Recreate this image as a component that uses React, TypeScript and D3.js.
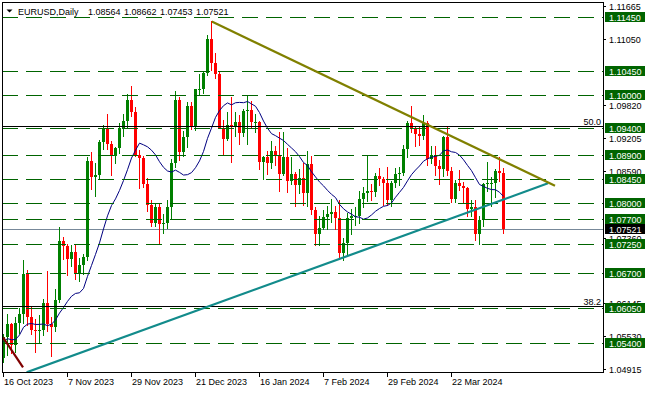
import React from 'react';
import * as d3 from 'd3';

// ---- Data (EURUSD daily, 16 Oct 2023 .. 10 Apr 2024) ----
const opens = [
  1.0512, 1.0551, 1.0576, 1.0537, 1.0578, 1.0594, 1.0668, 1.0588, 1.0565, 1.0564,
  1.0565, 1.0615, 1.0575, 1.0570, 1.0620, 1.0730, 1.0720, 1.0697, 1.0710, 1.0668,
  1.0685, 1.0700, 1.0879, 1.0848, 1.0852, 1.0914, 1.0939, 1.0909, 1.0888, 1.0903,
  1.0940, 1.0953, 1.0992, 1.0970, 1.0889, 1.0884, 1.0836, 1.0796, 1.0764, 1.0792,
  1.0762, 1.0763, 1.0793, 1.0874, 1.0991, 1.0895, 1.0922, 1.0980, 1.0942, 1.1012,
  1.1012, 1.1041, 1.1105, 1.1060, 1.1039, 1.0940, 1.0920, 1.0946, 1.0941, 1.0950,
  1.0931, 1.0972, 1.0973, 1.0950, 1.0951, 1.0876, 1.0885, 1.0875, 1.0897, 1.0888,
  1.0855, 1.0885, 1.0842, 1.0855, 1.0834, 1.0846, 1.0818, 1.0872, 1.0788, 1.0743,
  1.0754, 1.0774, 1.0780, 1.0784, 1.0772, 1.0708, 1.0727, 1.0772, 1.0777, 1.0777,
  1.0808, 1.0819, 1.0822, 1.0820, 1.0850, 1.0845, 1.0838, 1.0805, 1.0838, 1.0855,
  1.0856, 1.0900, 1.0948, 1.0937, 1.0928, 1.0924, 1.0948, 1.0882, 1.0890, 1.0869,
  1.0864, 1.0922, 1.0860, 1.0808, 1.0838, 1.0831, 1.0828, 1.0790, 1.0792, 1.0742,
  1.0769, 1.0835, 1.0837, 1.0838, 1.0860, 1.08564,
];
const highs = [
  1.0557, 1.0595, 1.0578, 1.0588, 1.0605, 1.0695, 1.0676, 1.0610, 1.0585, 1.0593,
  1.0622, 1.0675, 1.0588, 1.0640, 1.0756, 1.0737, 1.0724, 1.0723, 1.0724, 1.0698,
  1.0705, 1.0886, 1.0895, 1.0874, 1.0918, 1.0945, 1.0965, 1.0915, 1.0905, 1.0948,
  1.0965, 1.1002, 1.1017, 1.0978, 1.0898, 1.0888, 1.0846, 1.0806, 1.0799, 1.0800,
  1.0780, 1.0805, 1.0882, 1.1009, 1.0998, 1.0934, 1.0988, 1.0988, 1.1012, 1.1040,
  1.1045, 1.1112, 1.1139, 1.1079, 1.1045, 1.0955, 1.0969, 1.0998, 1.0970, 1.0963,
  1.0974, 1.0999, 1.0990, 1.0966, 1.0953, 1.0887, 1.0896, 1.0915, 1.0906, 1.0932,
  1.0932, 1.0903, 1.0886, 1.0858, 1.0863, 1.0875, 1.0896, 1.0888, 1.0792, 1.0776,
  1.0787, 1.0795, 1.0807, 1.0795, 1.0805, 1.0736, 1.0781, 1.0790, 1.0792, 1.0822,
  1.0830, 1.0888, 1.0836, 1.0856, 1.0865, 1.0849, 1.0867, 1.0842, 1.0866, 1.0868,
  1.0908, 1.0953, 1.0981, 1.0941, 1.0943, 1.0963, 1.0953, 1.0906, 1.0906, 1.0880,
  1.0924, 1.0942, 1.0868, 1.0843, 1.0862, 1.0840, 1.0830, 1.0805, 1.0806, 1.0776,
  1.0838, 1.0876, 1.0849, 1.0863, 1.0885, 1.08662,
];
const lows = [
  1.0505, 1.0519, 1.0522, 1.0524, 1.0560, 1.0577, 1.0574, 1.0557, 1.0524, 1.0543,
  1.0556, 1.0562, 1.0517, 1.0563, 1.0617, 1.0696, 1.0667, 1.0683, 1.0660, 1.0656,
  1.0668, 1.0695, 1.0826, 1.0813, 1.0845, 1.0900, 1.0901, 1.0852, 1.0875, 1.0893,
  1.0925, 1.0942, 1.0961, 1.0888, 1.0828, 1.0830, 1.0785, 1.0758, 1.0758, 1.0724,
  1.0745, 1.0754, 1.0773, 1.0868, 1.0880, 1.0888, 1.0904, 1.0937, 1.0936, 1.1001,
  1.1005, 1.1037, 1.1048, 1.1033, 1.0940, 1.0892, 1.0917, 1.0877, 1.0924, 1.0909,
  1.0925, 1.0910, 1.0940, 1.0932, 1.0863, 1.0844, 1.0855, 1.0866, 1.0871, 1.0822,
  1.0853, 1.0821, 1.0836, 1.0795, 1.0818, 1.0797, 1.0794, 1.0780, 1.0723, 1.0722,
  1.0752, 1.0752, 1.0765, 1.0753, 1.0696, 1.0695, 1.0702, 1.0742, 1.0760, 1.0764,
  1.0792, 1.0804, 1.0806, 1.0813, 1.0834, 1.0796, 1.0797, 1.0795, 1.0830, 1.0834,
  1.0853, 1.0886, 1.0932, 1.0907, 1.0908, 1.0919, 1.0871, 1.0875, 1.0853, 1.0835,
  1.0850, 1.0852, 1.0802, 1.0802, 1.0825, 1.0802, 1.0776, 1.0776, 1.0731, 1.0724,
  1.0757, 1.0822, 1.0795, 1.0811, 1.0841, 1.07453,
];
const closes = [
  1.0551, 1.0576, 1.0537, 1.0578, 1.0594, 1.0668, 1.0588, 1.0565, 1.0564, 1.0565,
  1.0615, 1.0575, 1.0570, 1.0620, 1.0730, 1.0720, 1.0697, 1.0710, 1.0668, 1.0685,
  1.0700, 1.0879, 1.0848, 1.0852, 1.0914, 1.0939, 1.0909, 1.0888, 1.0903, 1.0940,
  1.0953, 1.0992, 1.0970, 1.0889, 1.0884, 1.0836, 1.0796, 1.0764, 1.0792, 1.0762,
  1.0763, 1.0793, 1.0874, 1.0991, 1.0895, 1.0922, 1.0980, 1.0942, 1.1012, 1.1012,
  1.1041, 1.1105, 1.1060, 1.1039, 1.0940, 1.0920, 1.0946, 1.0941, 1.0950, 1.0931,
  1.0972, 1.0973, 1.0950, 1.0951, 1.0876, 1.0885, 1.0875, 1.0897, 1.0888, 1.0855,
  1.0885, 1.0842, 1.0855, 1.0834, 1.0846, 1.0818, 1.0872, 1.0788, 1.0743, 1.0754,
  1.0774, 1.0780, 1.0784, 1.0772, 1.0708, 1.0727, 1.0772, 1.0777, 1.0777, 1.0808,
  1.0819, 1.0822, 1.0820, 1.0850, 1.0845, 1.0838, 1.0805, 1.0838, 1.0855, 1.0856,
  1.0900, 1.0948, 1.0937, 1.0928, 1.0924, 1.0948, 1.0882, 1.0890, 1.0869, 1.0864,
  1.0922, 1.0860, 1.0808, 1.0838, 1.0831, 1.0828, 1.0790, 1.0792, 1.0742, 1.0769,
  1.0835, 1.0837, 1.0838, 1.0860, 1.0856, 1.07521,
];
// closes of the 13 sessions before 16 Oct 2023 (warm-up of the 14-period MA)
const priorCloses = [
  1.0502, 1.0565, 1.0573, 1.0476, 1.0468, 1.0505, 1.0549, 1.0589, 1.0563, 1.0605,
  1.0619, 1.0530, 1.0511,
];
const maPeriod = 14;

const xTickLabels = ['16 Oct 2023', '7 Nov 2023', '29 Nov 2023', '21 Dec 2023', '16 Jan 2024', '7 Feb 2024', '29 Feb 2024', '22 Mar 2024'];
const xTickBars = [0, 16, 32, 48, 64, 80, 96, 112];

const yTickValues = [1.11665, 1.1105, 1.0982, 1.09205, 1.0859, 1.0736, 1.06145, 1.0553, 1.04915];
const levelPrices = [1.1145, 1.1045, 1.1, 1.094, 1.089, 1.0845, 1.08, 1.077, 1.0725, 1.067, 1.0605, 1.054];
const fibPrices = [1.09425, 1.06093];
const fibLabels = ['50.0', '38.2'];
const bidPrice = 1.07521;

const headerSymbol = 'EURUSD,Daily';
const headerValues = ['1.08564', '1.08662', '1.07453', '1.07521'];

// trend lines: [barIndex, price] endpoints
const oliveLine = [[52.2, 1.1137], [138, 1.08325]];
const tealLine = [[5.9, 1.04861], [136.25, 1.08369]];
const maroonLine = [[0, 1.05512], [5, 1.04953]];

const FONT = '"Liberation Sans", Arial, sans-serif';

export default function App() {
  const left = 2, right = 603, top = 2, bottom = 372;
  const x = d3.scaleLinear().domain([0, 1]).range([3, 7]);
  const y = d3.scaleLinear().domain([1.048669, 1.117247]).range([372, 2.5]);
  const cy = (p: number) => Math.round(y(p)) + 0.5;

  const all = priorCloses.concat(closes);
  const ma = closes.map((_, i) => d3.mean(all.slice(i + priorCloses.length - maPeriod + 1, i + priorCloses.length + 1)) as number);
  const maPath = d3.line<number>().x((_, i) => x(i) + 0.5).y((d) => y(d))(ma) || '';

  const seg = (pts: number[][]) => d3.line<number[]>().x((d) => x(d[0])).y((d) => y(d[1]))(pts) || '';

  return (
    <svg width={649} height={393} style={{ position: 'absolute', left: 0, top: 0, background: '#fff' }} fontFamily={FONT}>
      <defs>
        <clipPath id="plot">
          <rect x={left + 1} y={top + 1} width={right - left - 1} height={bottom - top - 1} />
        </clipPath>
      </defs>
      <rect x={0} y={0} width={649} height={393} fill="#fff" />

      <g clipPath="url(#plot)">
        {/* bid line */}
        <line x1={left} x2={right} y1={cy(bidPrice)} y2={cy(bidPrice)} stroke="#778899" strokeWidth={1} />
        {/* candles */}
        <g shapeRendering="crispEdges">
          {closes.map((c, i) => {
            const o = opens[i];
            const col = c >= o ? '#008000' : '#ff0000';
            const cx = x(i);
            const t = Math.round(y(Math.max(o, c)));
            const b = Math.round(y(Math.min(o, c)));
            return (
              <g key={i}>
                <line x1={cx + 0.5} x2={cx + 0.5} y1={Math.round(y(highs[i]))} y2={Math.round(y(lows[i])) + 1} stroke={col} strokeWidth={1} />
                <rect x={cx - 1} y={t} width={3} height={Math.max(1, b - t)} fill={col} />
              </g>
            );
          })}
        </g>
        {/* moving average */}
        <path d={maPath} fill="none" stroke="#000080" strokeWidth={1} />
        {/* fibonacci levels */}
        {fibPrices.map((p, i) => (
          <line key={'f' + i} x1={left} x2={right} y1={cy(p)} y2={cy(p)} stroke="#000" strokeWidth={1} />
        ))}
        {/* horizontal levels */}
        {levelPrices.map((p, i) => (
          <line key={'l' + i} x1={left} x2={right} y1={cy(p)} y2={cy(p)} stroke="#006400" strokeWidth={1} strokeDasharray="16,8" />
        ))}
        {/* trend lines */}
        <path d={seg(tealLine)} stroke="#128b8b" strokeWidth={2.2} fill="none" />
        <path d={seg(oliveLine)} stroke="#808000" strokeWidth={2.2} fill="none" />
        <path d={seg(maroonLine)} stroke="#800000" strokeWidth={2.2} fill="none" />
      </g>

      {fibPrices.map((p, i) => (
        <text key={'ft' + i} x={601} y={cy(p) - 2} fontSize={9} textAnchor="end" fill="#000">{fibLabels[i]}</text>
      ))}

      {/* frame */}
      <path d={`M${left + 0.5},${bottom + 0.5}V${top + 0.5}H${right + 0.5}V${bottom + 0.5}Z`} fill="none" stroke="#000" strokeWidth={1} shapeRendering="crispEdges" />

      {/* x axis */}
      {xTickBars.map((b, i) => (
        <g key={'x' + i}>
          <line x1={x(b) + 0.5} x2={x(b) + 0.5} y1={bottom} y2={bottom + 5} stroke="#000" shapeRendering="crispEdges" />
          <text x={x(b) + 1} y={385} fontSize={9} fill="#000">{xTickLabels[i]}</text>
        </g>
      ))}

      {/* y axis ticks */}
      {yTickValues.map((v, i) => (
        <g key={'y' + i}>
          <line x1={right} x2={right + 3} y1={cy(v)} y2={cy(v)} stroke="#000" shapeRendering="crispEdges" />
          <text x={609} y={cy(v) + 3.2} fontSize={9} fill="#000">{v.toFixed(5)}</text>
        </g>
      ))}
      {levelPrices.map((p, i) => (
        <g key={'lb' + i}>
          <rect x={605} y={Math.round(y(p)) - 5} width={40} height={10} fill="#006400" />
          <text x={609} y={Math.round(y(p)) + 3.5} fontSize={9} fill="#fff">{p.toFixed(5)}</text>
        </g>
      ))}
      <rect x={605} y={Math.round(y(bidPrice)) - 5} width={40} height={10} fill="#000" />
      <text x={609} y={Math.round(y(bidPrice)) + 3.5} fontSize={9} fill="#fff">{bidPrice.toFixed(5)}</text>

      {/* header */}
      <path d="M6.5,9.5H12.5L9.5,12.5Z" fill="#000" />
      <text x={18} y={14.5} fontSize={9} fill="#000">{headerSymbol}</text>
      {headerValues.map((v, i) => (
        <text key={'h' + i} x={88 + 36 * i} y={14.5} fontSize={9} fill="#000">{v}</text>
      ))}
    </svg>
  );
}
